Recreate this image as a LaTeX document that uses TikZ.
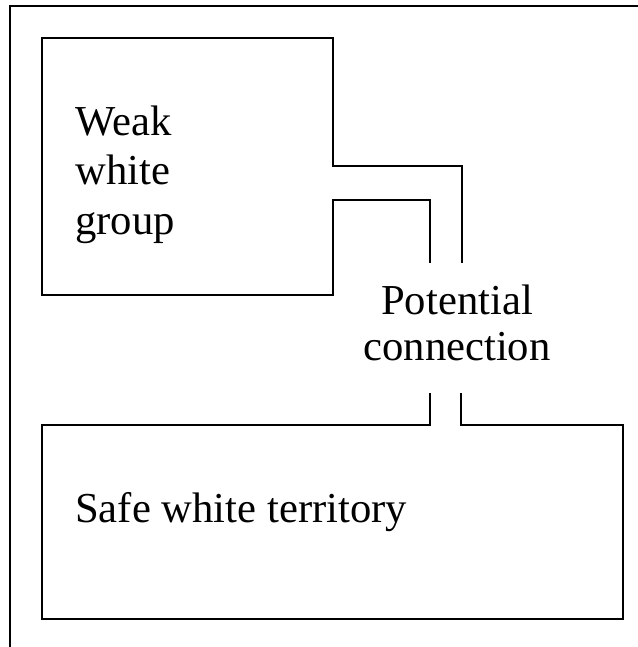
\documentclass[tikz,border=0pt]{standalone}
\usepackage{fontspec}
\setmainfont{Liberation Serif}
\begin{document}
\begin{tikzpicture}[x=0.75pt,y=-0.75pt,
  frameline/.style={line width=1.6pt},
  regionline/.style={line width=2.2pt, line join=miter},
  label/.style={inner sep=0pt, font=\fontsize{32}{37}\selectfont}]
\useasboundingbox (0,0) rectangle (638,647);
% outer frame (top and left edges)
\draw[frameline] (638,6) -- (10,6) -- (10,647);
% weak white group with its two corridor walls
\draw[regionline] (462,263) -- (462,166) -- (333,166) -- (333,38) -- (42,38)
  -- (42,295) -- (333,295) -- (333,200) -- (430,200) -- (430,263);
% safe white territory with its opening
\draw[regionline] (430,393) -- (430,425) -- (42,425) -- (42,619) -- (623,619)
  -- (623,425) -- (461,425) -- (461,393);
% labels (base anchor of a multi-line node = baseline of its last line)
\node[label, anchor=base west, align=left] (weak) at (75,234) {Weak\\white\\group};
\node[label, anchor=base, align=center] (conn) at (457,360) {Potential\\[-3pt]connection};
\node[label, anchor=base west] (safe) at (75,522) {Safe white territory};
\end{tikzpicture}
\end{document}
